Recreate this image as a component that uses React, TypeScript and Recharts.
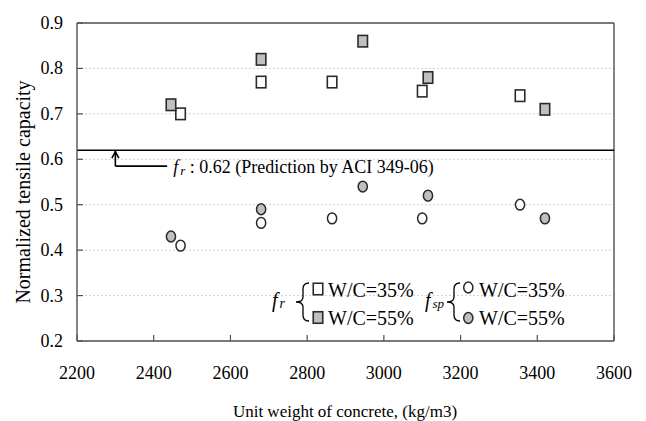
import { ScatterChart, Scatter, XAxis, YAxis, CartesianGrid, ReferenceLine, ReferenceDot } from "recharts";

const SERIF = "Liberation Serif, Tinos, DejaVu Serif, Times New Roman, serif";

// unit weight of the mixes (kg/m3)
const weightsWC35 = [2470, 2680, 2865, 3100, 3355];
const weightsWC55 = [2445, 2680, 2945, 3115, 3420];

// normalized modulus of rupture f_r
const frWC35 = [0.7, 0.77, 0.77, 0.75, 0.74];
const frWC55 = [0.72, 0.82, 0.86, 0.78, 0.71];

// normalized splitting tensile strength f_sp
const fspWC35 = [0.41, 0.46, 0.47, 0.47, 0.5];
const fspWC55 = [0.43, 0.49, 0.54, 0.52, 0.47];

const xTicks = [2200, 2400, 2600, 2800, 3000, 3200, 3400, 3600];
const yTicks = [0.2, 0.3, 0.4, 0.5, 0.6, 0.7, 0.8, 0.9];

// ACI 349-06 prediction for f_r and where its callout arrow sits
const aciPrediction = 0.62;
const arrowX = 2300;
const arrowElbowY = 0.585;
const arrowEndX = 2435;

const toPoints = (xs: number[], ys: number[]) => xs.map((x, i) => ({ x, y: ys[i] }));

const GRAY = "#c0c0c0";
const EDGE = "#2a2a2a";
const FRAME = "#505050";

const square = (fill: string) => (props: any) => (
  <rect x={props.cx - 4.75} y={props.cy - 5.75} width={9.5} height={11.5} fill={fill} stroke={EDGE} strokeWidth={1.6} />
);

const circle = (fill: string) => (props: any) => (
  <ellipse cx={props.cx} cy={props.cy} rx={4.6} ry={5.4} fill={fill} stroke={EDGE} strokeWidth={1.5} />
);

const XTick = (props: any) => {
  const { x, y, payload } = props;
  return (
    <g>
      <line x1={x} x2={x} y1={y - 20} y2={y - 26} stroke={FRAME} strokeWidth={1.2} />
      <text x={x} y={y + 18} textAnchor="middle" fill="#000" style={{ fontSize: 18, fontFamily: SERIF }}>
        {payload.value}
      </text>
    </g>
  );
};

const YTick = (props: any) => {
  const { x, y, payload } = props;
  return (
    <g>
      <line x1={x + 14} x2={x + 20} y1={y} y2={y} stroke={FRAME} strokeWidth={1.2} />
      <text x={x} y={y + 6} textAnchor="end" fill="#000" style={{ fontSize: 18, fontFamily: SERIF }}>
        {Number(payload.value).toFixed(1)}
      </text>
    </g>
  );
};

const ArrowHead = (props: any) => (
  <path d={`M${props.cx - 3.5},${props.cy + 8} L${props.cx},${props.cy + 1.5} L${props.cx + 3.5},${props.cy + 8}`} fill="none" stroke="#000" strokeWidth={1.6} />
);

const CalloutText = (props: any) => (
  <text x={props.cx + 6} y={props.cy + 7} fill="#000" style={{ fontSize: 18, fontFamily: SERIF }}>
    <tspan fontStyle="italic">f</tspan>
    <tspan fontStyle="italic" style={{ fontSize: 13 }} dx={2} dy={2}>r</tspan>
    <tspan dy={-2}> : {aciPrediction.toFixed(2)} (Prediction by ACI 349-06)</tspan>
  </text>
);

const brace = (x: number, top: number, bottom: number) => {
  const mid = (top + bottom) / 2;
  return `M${x + 13},${top} Q${x + 7},${top} ${x + 7},${top + 6} L${x + 7},${mid - 5} Q${x + 7},${mid} ${x},${mid} Q${x + 7},${mid} ${x + 7},${mid + 5} L${x + 7},${bottom - 6} Q${x + 7},${bottom} ${x + 13},${bottom}`;
};

function Legend() {
  return (
    <svg width={646} height={421} style={{ position: "absolute", left: 0, top: 0, pointerEvents: "none", fontFamily: SERIF }}>
      <g fill="#000">
        <text x={272} y={307} fontStyle="italic" style={{ fontSize: 20 }}>
          f<tspan style={{ fontSize: 14 }} dx={2} dy={1}>r</tspan>
        </text>
        <path d={brace(296, 283, 321)} fill="none" stroke="#000" strokeWidth={1.3} />
        <rect x={313.25} y={283.25} width={9.5} height={11.5} fill="#fff" stroke={EDGE} strokeWidth={1.6} />
        <rect x={313.25} y={311.75} width={9.5} height={11.5} fill={GRAY} stroke={EDGE} strokeWidth={1.6} />
        <text x={328} y={297} style={{ fontSize: 20 }}>W/C=35%</text>
        <text x={328} y={325} style={{ fontSize: 20 }}>W/C=55%</text>

        <text x={425} y={307} fontStyle="italic" style={{ fontSize: 20 }}>
          f<tspan style={{ fontSize: 13 }} dx={2} dy={1}>sp</tspan>
        </text>
        <path d={brace(447, 283, 321)} fill="none" stroke="#000" strokeWidth={1.3} />
        <ellipse cx={468.3} cy={287.5} rx={4.6} ry={5.4} fill="#fff" stroke={EDGE} strokeWidth={1.5} />
        <ellipse cx={468.3} cy={318} rx={4.6} ry={5.4} fill={GRAY} stroke={EDGE} strokeWidth={1.5} />
        <text x={479} y={297} style={{ fontSize: 20 }}>W/C=35%</text>
        <text x={479} y={325} style={{ fontSize: 20 }}>W/C=55%</text>

        <text x={345} y={417} textAnchor="middle" style={{ fontSize: 17 }}>
          Unit weight of concrete, (kg/m3)
        </text>
        <text transform="translate(30, 192) rotate(-90)" textAnchor="middle" style={{ fontSize: 20 }}>
          Normalized tensile capacity
        </text>
      </g>
    </svg>
  );
}

export default function App() {
  return (
    <div style={{ position: "absolute", left: 0, top: 0, width: 646, height: 421, background: "#fff", fontFamily: SERIF }}>
      <ScatterChart width={646} height={421} margin={{ top: 23, right: 32, bottom: 0, left: 17 }}>
        <CartesianGrid horizontal vertical={false} stroke="#cfcfcf" strokeDasharray="2 2" />
        <XAxis
          type="number"
          dataKey="x"
          domain={[2200, 3600]}
          ticks={xTicks}
          height={80}
          tickSize={0}
          tickMargin={20}
          tickLine={false}
          axisLine={{ stroke: FRAME, strokeWidth: 1.4 }}
          tick={<XTick />}
          interval={0}
        />
        <YAxis
          type="number"
          dataKey="y"
          domain={[0.2, 0.9]}
          ticks={yTicks}
          width={60}
          tickSize={0}
          tickMargin={14}
          tickLine={false}
          axisLine={{ stroke: FRAME, strokeWidth: 1.4 }}
          tick={<YTick />}
          interval={0}
        />
        <ReferenceLine y={0.9} stroke={FRAME} strokeWidth={1.4} />
        <ReferenceLine x={3600} stroke={FRAME} strokeWidth={1.4} />
        <ReferenceLine y={aciPrediction} stroke="#000" strokeWidth={1.6} />
        <ReferenceLine
          segment={[
            { x: arrowX, y: aciPrediction },
            { x: arrowX, y: arrowElbowY },
          ]}
          stroke="#000"
          strokeWidth={1.6}
        />
        <ReferenceLine
          segment={[
            { x: arrowX, y: arrowElbowY },
            { x: arrowEndX, y: arrowElbowY },
          ]}
          stroke="#000"
          strokeWidth={1.6}
        />
        <ReferenceDot x={arrowX} y={aciPrediction} r={0} shape={ArrowHead} />
        <ReferenceDot x={arrowEndX} y={arrowElbowY} r={0} shape={CalloutText} />

        <Scatter data={toPoints(weightsWC35, frWC35)} shape={square("#fff")} isAnimationActive={false} />
        <Scatter data={toPoints(weightsWC55, frWC55)} shape={square(GRAY)} isAnimationActive={false} />
        <Scatter data={toPoints(weightsWC35, fspWC35)} shape={circle("#fff")} isAnimationActive={false} />
        <Scatter data={toPoints(weightsWC55, fspWC55)} shape={circle(GRAY)} isAnimationActive={false} />
      </ScatterChart>
      <Legend />
    </div>
  );
}
